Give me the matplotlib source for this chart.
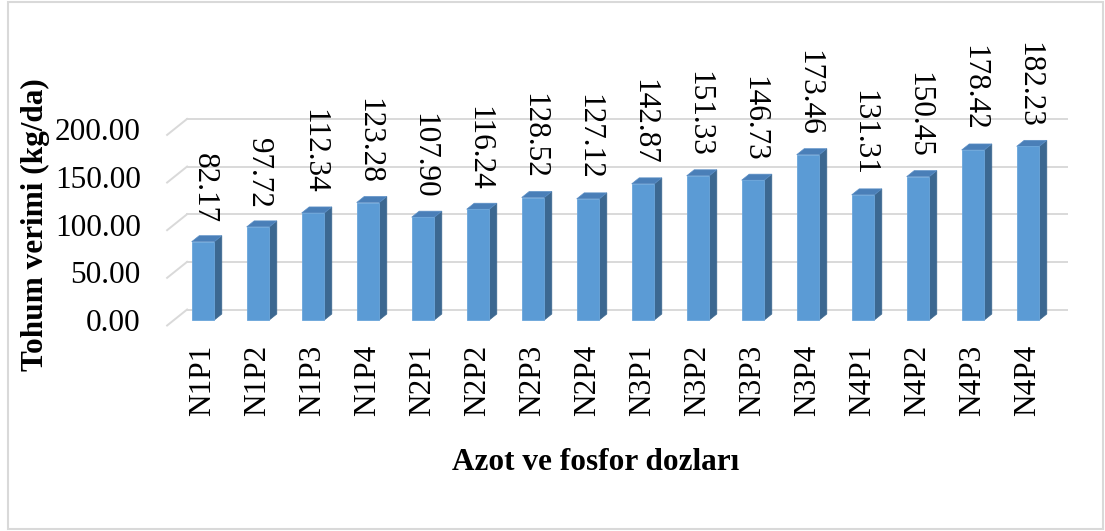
import matplotlib.pyplot as plt
from matplotlib.patches import Polygon, Rectangle

# data
doses = ['N1P1', 'N1P2', 'N1P3', 'N1P4', 'N2P1', 'N2P2', 'N2P3', 'N2P4',
         'N3P1', 'N3P2', 'N3P3', 'N3P4', 'N4P1', 'N4P2', 'N4P3', 'N4P4']
yields = [82.17, 97.72, 112.34, 123.28, 107.90, 116.24, 128.52, 127.12,
          142.87, 151.33, 146.73, 173.46, 131.31, 150.45, 178.42, 182.23]
yticks = [0, 50, 100, 150, 200]

plt.rcParams['font.family'] = ['Liberation Serif', 'DejaVu Serif']
fs = 22.5

W, H = 1105, 531
fig = plt.figure(figsize=(W / 100, H / 100), dpi=100)

# axes = front plane of the bars (pixels)
left_px, right_px = 175.5, 1055.5
bot_px, top_px = 320, 129.4
ax = fig.add_axes([left_px / W, (H - bot_px) / H,
                   (right_px - left_px) / W, (bot_px - top_px) / H])
xmin, xmax = -0.5, len(doses) - 0.5
ymin, ymax = 0, 200
ax.set_xlim(xmin, xmax)
ax.set_ylim(ymin, ymax)

# px -> data units
kx = (xmax - xmin) / (right_px - left_px)
ky = (ymax - ymin) / (bot_px - top_px)

grid_col = '#D9D9D9'
# back wall offset and front floor edge offset (px)
bdx, bdy = 11.6, 10.5
fdx, fdy = -8.4, -5.5
for v in yticks:
    yb = v + bdy * ky
    yf = v + fdy * ky
    ax.plot([xmin + bdx * kx, xmax + bdx * kx], [yb, yb], color=grid_col,
            lw=1.4, clip_on=False, zorder=1)
    ax.plot([xmin + fdx * kx, xmin + bdx * kx], [yf, yb], color=grid_col,
            lw=1.4, clip_on=False, zorder=1)

# bars with a fake 3d look
bw = 22.6 * kx
sdx, sdy = 7.5 * kx, 6 * ky
x = list(range(len(doses)))
ax.bar(x, yields, width=bw, color='#5B9BD5', edgecolor='#6AA5DA',
       linewidth=0.6, zorder=3, clip_on=False)
for i, v in enumerate(yields):
    xl, xr = i - bw / 2, i + bw / 2
    side = Polygon([(xr, 0), (xr + sdx, sdy), (xr + sdx, v + sdy), (xr, v)],
                   closed=True, facecolor='#3C6891', edgecolor='#3C6891',
                   lw=0.5, zorder=2, clip_on=False)
    top = Polygon([(xl, v), (xl + sdx, v + sdy), (xr + sdx, v + sdy), (xr, v)],
                  closed=True, facecolor='#4A7FB8', edgecolor='#5B8FC6',
                  lw=0.5, zorder=2, clip_on=False)
    ax.add_patch(side)
    ax.add_patch(top)
    ax.annotate('%.2f' % v, (i + 1 * kx, v), xytext=(0, 13.5),
                textcoords='offset points', rotation=270, ha='center',
                va='bottom', fontsize=fs, annotation_clip=False)

for s in ax.spines.values():
    s.set_visible(False)
ax.set_xticks(x)
ax.set_xticklabels(doses, rotation=90, fontsize=fs)
ax.set_yticks(yticks)
ax.set_yticklabels(['%.2f' % t for t in yticks], fontsize=fs)
ax.tick_params(axis='x', length=0, pad=18)
ax.tick_params(axis='y', length=0, pad=25)
ax.patch.set_visible(False)

fig.text(35 / W, 1 - 225 / H, 'Tohum verimi (kg/da)', rotation=90,
         ha='center', va='center', fontsize=fs, fontweight='bold')
fig.text(596 / W, 1 - 463 / H, 'Azot ve fosfor dozları', ha='center',
         va='center', fontsize=fs, fontweight='bold')

fig.patches.append(Rectangle((8 / W, 2 / H), 1095 / W, 527 / H,
                             transform=fig.transFigure, fill=False,
                             edgecolor='#D9D9D9', lw=1.5))

fig.savefig('out.png', dpi=100)
